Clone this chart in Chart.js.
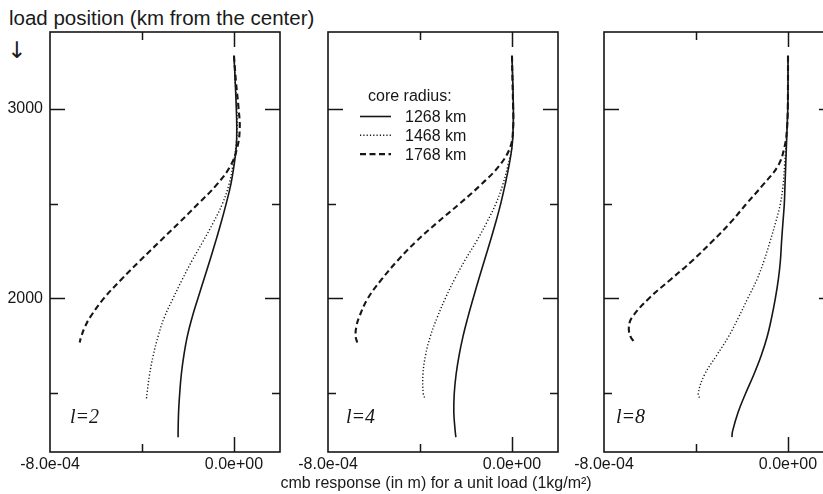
<!DOCTYPE html>
<html>
<head>
<meta charset="utf-8">
<script src="https://cdn.jsdelivr.net/npm/chart.js@4.4.0/dist/chart.umd.min.js"></script>
<style>
  html, body { margin: 0; padding: 0; background: #fff; overflow: hidden; }
  #wrap { position: relative; width: 823px; height: 494px; overflow: hidden; font-family: "Liberation Sans", Arial, sans-serif; color: #1a1a1a; }
  canvas { position: absolute; top: 0; }
  .txt { position: absolute; white-space: nowrap; }
</style>
</head>
<body>
<div id="wrap">
  <div class="txt" style="left:9px; top:8px; font-size:20.5px; line-height:20.5px;">load position (km from the center)</div>
  <div class="txt" style="left:7px; top:39px; font-size:23px; line-height:23px; font-family:'DejaVu Sans';">↓</div>
  <canvas id="c1" width="290" height="494" style="left:0px"></canvas>
  <canvas id="c2" width="290" height="494" style="left:278px"></canvas>
  <canvas id="c3" width="290" height="494" style="left:554px"></canvas>
  <div class="txt" style="left:0; width:872px; text-align:center; top:475px; font-size:16px; line-height:16px;">cmb response (in m) for a unit load (1kg/m²)</div>
</div>
<script>
// load positions (km) along each curve, one per core radius
const depth1268 = [3280, 3150, 3000, 2900, 2800, 2700, 2600, 2500, 2400, 2300, 2200, 2100, 2000, 1900, 1800, 1700, 1600, 1500, 1400, 1300, 1268];
const depth1468 = [3280, 3150, 3000, 2900, 2800, 2700, 2600, 2500, 2400, 2300, 2200, 2100, 2000, 1900, 1800, 1700, 1600, 1500, 1468];
const depth1768 = [3280, 3150, 3000, 2900, 2800, 2700, 2600, 2500, 2400, 2300, 2200, 2100, 2000, 1900, 1850, 1800, 1768];

// cmb response (m), degree l=2
const l2_r1268 = [0, 0.05e-4, 0.1e-4, 0.12e-4, 0.1e-4, 0, -0.14e-4, -0.34e-4, -0.56e-4, -0.8e-4, -1.05e-4, -1.31e-4, -1.57e-4, -1.82e-4, -2.03e-4, -2.18e-4, -2.29e-4, -2.36e-4, -2.41e-4, -2.43e-4, -2.43e-4];
const l2_r1468 = [0, 0.05e-4, 0.12e-4, 0.14e-4, 0.08e-4, -0.05e-4, -0.22e-4, -0.5e-4, -0.9e-4, -1.35e-4, -1.82e-4, -2.25e-4, -2.65e-4, -3.03e-4, -3.3e-4, -3.51e-4, -3.67e-4, -3.78e-4, -3.81e-4];
const l2_r1768 = [0, 0.08e-4, 0.2e-4, 0.25e-4, 0.15e-4, -0.15e-4, -0.75e-4, -1.55e-4, -2.38e-4, -3.23e-4, -4.08e-4, -4.9e-4, -5.66e-4, -6.26e-4, -6.48e-4, -6.64e-4, -6.71e-4];

// degree l=4
const l4_r1268 = [0, 0.03e-4, 0.06e-4, 0.05e-4, 0, -0.13e-4, -0.3e-4, -0.49e-4, -0.71e-4, -0.95e-4, -1.2e-4, -1.45e-4, -1.69e-4, -1.92e-4, -2.13e-4, -2.3e-4, -2.43e-4, -2.51e-4, -2.53e-4, -2.47e-4, -2.44e-4];
const l4_r1468 = [0, 0.03e-4, 0.06e-4, 0.05e-4, 0, -0.18e-4, -0.4e-4, -0.7e-4, -1.1e-4, -1.55e-4, -2.05e-4, -2.5e-4, -2.9e-4, -3.25e-4, -3.55e-4, -3.76e-4, -3.87e-4, -3.86e-4, -3.77e-4];
const l4_r1768 = [0, 0.02e-4, 0.05e-4, 0.05e-4, -0.07e-4, -0.55e-4, -1.35e-4, -2.27e-4, -3.25e-4, -4.17e-4, -4.97e-4, -5.67e-4, -6.27e-4, -6.65e-4, -6.77e-4, -6.8e-4, -6.73e-4];

// degree l=8
const l8_r1268 = [0, 0, -0.01e-4, -0.04e-4, -0.07e-4, -0.1e-4, -0.13e-4, -0.16e-4, -0.22e-4, -0.28e-4, -0.33e-4, -0.42e-4, -0.55e-4, -0.71e-4, -0.9e-4, -1.16e-4, -1.48e-4, -1.84e-4, -2.17e-4, -2.41e-4, -2.44e-4];
const l8_r1468 = [0, 0, -0.01e-4, -0.04e-4, -0.09e-4, -0.15e-4, -0.21e-4, -0.33e-4, -0.54e-4, -0.78e-4, -1.04e-4, -1.35e-4, -1.75e-4, -2.15e-4, -2.58e-4, -3.1e-4, -3.62e-4, -3.9e-4, -3.82e-4];
const l8_r1768 = [0, 0, -0.01e-4, -0.04e-4, -0.15e-4, -0.43e-4, -1.08e-4, -1.8e-4, -2.5e-4, -3.3e-4, -4.15e-4, -5.1e-4, -6.05e-4, -6.78e-4, -6.92e-4, -6.85e-4, -6.67e-4];

const coreLabels = ['1268 km', '1468 km', '1768 km'];
const xTicks = [-8e-4, -4e-4, 0];
const yTicks = [1500, 2000, 2500, 3000];
const yLabelTicks = [2000, 3000];

const depths = [depth1268, depth1468, depth1768];
const dashes = [[], [1.2, 2.1], [6, 3.5]];
const widths = [1.6, 1.4, 2.1];
const ink = '#161616';

// format like -8.0e-04 / 0.0e+00
function sci(v) {
    if (v === 0) return '0.0e+00';
    const parts = v.toExponential(1).split('e');
    const n = parseInt(parts[1]);
    return parts[0] + 'e' + (n < 0 ? '-' : '+') + String(Math.abs(n)).padStart(2, '0');
}

// box, inward ticks, panel label and legend
const framePlugin = {
    id: 'frame',
    afterDraw(chart, args, opts) {
        const { ctx, chartArea: a } = chart;
        const xs = chart.scales.x, ys = chart.scales.y;
        ctx.save();
        ctx.strokeStyle = ink;
        ctx.lineWidth = 1.6;
        ctx.strokeRect(a.left, a.top, a.width, a.height);

        ctx.lineWidth = 1.5;
        ctx.beginPath();
        yTicks.forEach(v => {
            const py = Math.round(ys.getPixelForValue(v)) + 0.5;
            const len = yLabelTicks.includes(v) ? 15 : 8;
            ctx.moveTo(a.left, py); ctx.lineTo(a.left + len, py);
            ctx.moveTo(a.right, py); ctx.lineTo(a.right - len, py);
        });
        xTicks.slice(1).forEach(v => {
            const px = Math.round(xs.getPixelForValue(v)) + 0.5;
            const len = v === 0 ? 15 : 8;
            ctx.moveTo(px, a.bottom); ctx.lineTo(px, a.bottom - len);
            ctx.moveTo(px, a.top); ctx.lineTo(px, a.top + len);
        });
        ctx.stroke();

        ctx.fillStyle = ink;
        ctx.font = 'italic 20px "Liberation Serif", "Times New Roman", serif';
        ctx.textBaseline = 'alphabetic';
        ctx.textAlign = 'left';
        ctx.fillText(opts.label, a.left + opts.labelDx, a.bottom - 29);

        if (opts.legend) {
            const lx = a.left + 32, ly = a.top + 65;
            ctx.font = '16px "Liberation Sans", Arial, sans-serif';
            ctx.textBaseline = 'middle';
            ctx.fillText('core radius:', lx + 8, ly);
            chart.data.datasets.forEach((ds, i) => {
                const yy = ly + 19.5 + i * 18.8;
                ctx.save();
                ctx.strokeStyle = ds.borderColor;
                ctx.lineWidth = ds.borderWidth;
                ctx.setLineDash(ds.borderDash);
                ctx.beginPath();
                ctx.moveTo(lx, yy); ctx.lineTo(lx + 31, yy);
                ctx.stroke();
                ctx.restore();
                ctx.fillText(ds.label, lx + 45, yy + 1);
            });
        }
        ctx.restore();
    }
};

function makePanel(id, label, labelDx, series, showY, legend) {
    const datasets = series.map((resp, k) => ({
        label: coreLabels[k],
        data: depths[k].map((d, i) => ({ x: resp[i], y: d })),
        showLine: true,
        borderColor: ink,
        borderWidth: widths[k],
        borderDash: dashes[k],
        pointRadius: 0,
        tension: 0.4,
        fill: false
    }));

    new Chart(document.getElementById(id), {
        type: 'scatter',
        data: { datasets: datasets },
        options: {
            responsive: false,
            animation: false,
            devicePixelRatio: 1,
            layout: { autoPadding: false, padding: { top: 32, right: 10, left: 0, bottom: 0 } },
            plugins: {
                legend: { display: false },
                tooltip: { enabled: false },
                frame: { label: label, labelDx: labelDx, legend: legend }
            },
            scales: {
                x: {
                    type: 'linear',
                    min: -8e-4,
                    max: 2e-4,
                    afterBuildTicks: s => { s.ticks = xTicks.map(v => ({ value: v })); },
                    afterFit: s => { s.height = 42; },
                    grid: { display: false, drawTicks: false },
                    border: { display: false },
                    ticks: {
                        autoSkip: false,
                        maxRotation: 0,
                        padding: 3,
                        color: ink,
                        font: { size: 16 },
                        callback: v => (v === -4e-4 ? '' : sci(v))
                    }
                },
                y: {
                    type: 'linear',
                    min: 1190,
                    max: 3405,
                    afterBuildTicks: s => { s.ticks = yLabelTicks.map(v => ({ value: v })); },
                    afterFit: s => { s.width = 50; },
                    grid: { display: false, drawTicks: false },
                    border: { display: false },
                    ticks: {
                        display: showY,
                        padding: 7,
                        color: ink,
                        font: { size: 16 },
                        callback: v => String(v)
                    }
                }
            }
        },
        plugins: [framePlugin]
    });
}

Chart.defaults.font.family = '"Liberation Sans", Arial, sans-serif';

makePanel('c1', 'l=2', 20, [l2_r1268, l2_r1468, l2_r1768], true, false);
makePanel('c2', 'l=4', 18, [l4_r1268, l4_r1468, l4_r1768], false, true);
makePanel('c3', 'l=8', 12, [l8_r1268, l8_r1468, l8_r1768], false, false);
</script>
</body>
</html>
